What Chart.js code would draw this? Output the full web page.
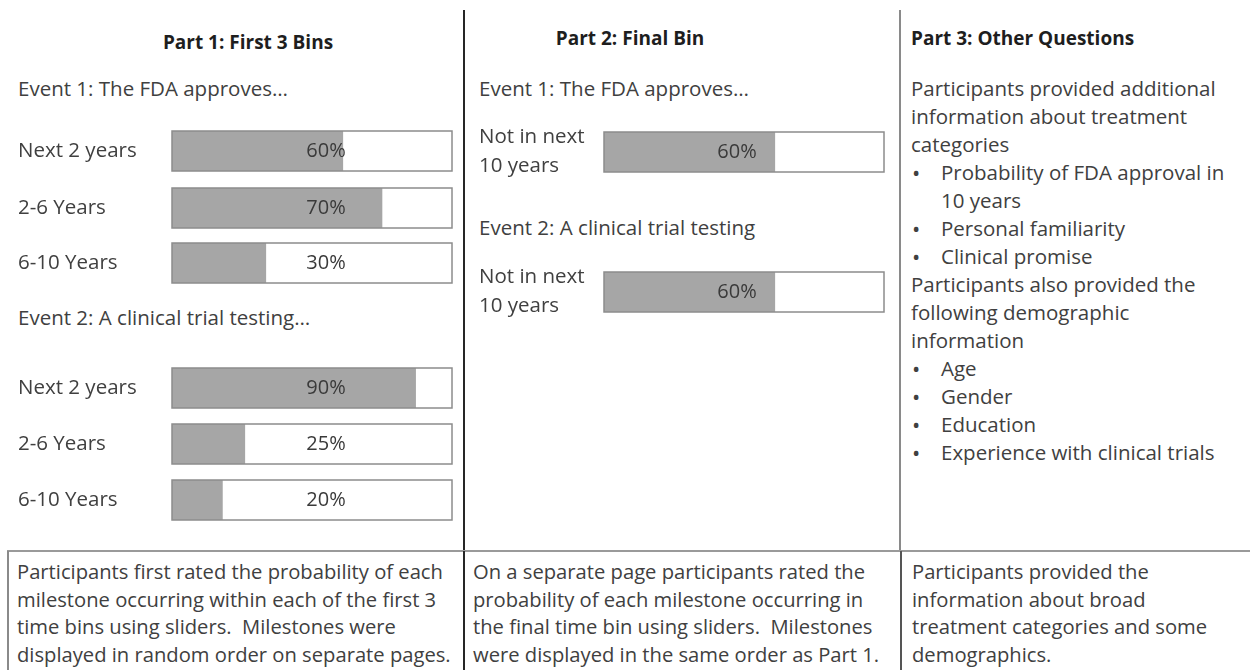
<!DOCTYPE html>
<html>
<head>
<meta charset="utf-8">
<script src="https://cdn.jsdelivr.net/npm/chart.js"></script>
<style>
    body { margin: 0; width: 1250px; height: 670px; background: #fff; position: relative; overflow: hidden;
           font-family: "Open Sans", sans-serif; color: #404040; }
    .t { position: absolute; white-space: nowrap; font-size: 20.5px; line-height: 28px; }
    .h { font-weight: bold; color: #1e1e1e; font-size: 19px; }
    .note { font-size: 20.2px; line-height: 27.5px; top: 558px; }
    .ln { position: absolute; }
    canvas { position: absolute; }
</style>
</head>
<body>

<!-- panel rules -->
<div class="ln" style="left:463px;top:10px;width:2px;height:542px;background:#262626"></div>
<div class="ln" style="left:899px;top:10px;width:2px;height:542px;background:#8a8a8a"></div>
<div class="ln" style="left:7px;top:550px;width:1243px;height:2px;background:#9a9a9a"></div>
<div class="ln" style="left:7px;top:551px;width:2px;height:119px;background:#8a8a8a"></div>
<div class="ln" style="left:463px;top:551px;width:2px;height:119px;background:#262626"></div>
<div class="ln" style="left:900px;top:551px;width:2px;height:119px;background:#555"></div>

<!-- Part 1 -->
<div class="t h" style="left:18px;width:460px;text-align:center;top:28px">Part 1: First 3 Bins</div>
<div class="t" style="left:18px;top:74px">Event 1: The FDA approves…</div>
<div class="t" style="left:18px;top:303px">Event 2: A clinical trial testing…</div>
<canvas id="p1e1_0" width="444" height="50" style="left:10px;top:126px"></canvas>
<canvas id="p1e1_1" width="444" height="50" style="left:10px;top:183px"></canvas>
<canvas id="p1e1_2" width="444" height="50" style="left:10px;top:238px"></canvas>
<canvas id="p1e2_0" width="444" height="50" style="left:10px;top:363px"></canvas>
<canvas id="p1e2_1" width="444" height="50" style="left:10px;top:419px"></canvas>
<canvas id="p1e2_2" width="444" height="50" style="left:10px;top:475px"></canvas>

<!-- Part 2 -->
<div class="t h" style="left:480px;width:300px;text-align:center;top:24px">Part 2: Final Bin</div>
<div class="t" style="left:479px;top:74px">Event 1: The FDA approves…</div>
<div class="t" style="left:479px;top:213px">Event 2: A clinical trial testing</div>
<canvas id="p2e1_0" width="416" height="64" style="left:470px;top:120px"></canvas>
<canvas id="p2e2_0" width="416" height="64" style="left:470px;top:260px"></canvas>

<!-- Part 3 -->
<div class="t h" style="left:911px;top:24px">Part 3: Other Questions</div>
<div class="t" id="p3" style="left:911px;top:74px"></div>

<!-- bottom notes -->
<div class="t note" id="n1" style="left:17px"></div>
<div class="t note" id="n2" style="left:473px"></div>
<div class="t note" id="n3" style="left:912px"></div>

<script>
// percent shown on each slider
const part1Bins = ['Next 2 years', '2-6 Years', '6-10 Years'];
const part1Event1 = [60, 70, 30];
const part1Event2 = [90, 25, 20];
const part2Bins = [['Not in next', '10 years']];
const part2Event1 = [60];
const part2Event2 = [60];
// where the slider fill actually stops in the figure (not exactly the printed %)
const part1Event1Fill = [61, 75, 33.5];
const part1Event2Fill = [87, 26, 18];
const part2Event1Fill = [61];
const part2Event2Fill = [61];

const part3Lines = [
    ['', 'Participants provided additional'],
    ['', 'information about treatment'],
    ['', 'categories'],
    ['•', 'Probability of FDA approval in'],
    ['-', '10 years'],
    ['•', 'Personal familiarity'],
    ['•', 'Clinical promise'],
    ['', 'Participants also provided the'],
    ['', 'following demographic'],
    ['', 'information'],
    ['•', 'Age'],
    ['•', 'Gender'],
    ['•', 'Education'],
    ['•', 'Experience with clinical trials']
];
const notes = [
    ['Participants first rated the probability of each', 'milestone occurring within each of the first 3',
     'time bins using sliders.  Milestones were', 'displayed in random order on separate pages.'],
    ['On a separate page participants rated the', 'probability of each milestone occurring in',
     'the final time bin using sliders.  Milestones', 'were displayed in the same order as Part 1.'],
    ['Participants provided the', 'information about broad', 'treatment categories and some', 'demographics.']
];

// text blocks
document.getElementById('p3').innerHTML = part3Lines.map(function(l) {
    if (l[0] === '-') return '<div style="padding-left:30px">' + l[1] + '</div>';   // wrapped bullet line
    if (!l[0]) return '<div>' + l[1] + '</div>';
    return '<div style="position:relative;padding-left:30px"><span style="position:absolute;left:1px;font-size:22px">•</span>' + l[1] + '</div>';
}).join('');
['n1', 'n2', 'n3'].forEach(function(id, i) {
    document.getElementById(id).innerHTML = notes[i].map(l => '<div style="white-space:pre">' + l + '</div>').join('');
});

// white track, grey border and the % label of each slider
const sliderBox = {
    id: 'sliderBox',
    beforeDatasetsDraw(chart) {
        const a = chart.chartArea, ctx = chart.ctx;
        ctx.save();
        ctx.fillStyle = '#fff';
        ctx.fillRect(a.left, a.top, a.right - a.left, a.bottom - a.top);
        ctx.restore();
    },
    afterDatasetsDraw(chart, args, opts) {
        const a = chart.chartArea, ctx = chart.ctx;
        ctx.save();
        ctx.strokeStyle = '#8c8c8c';
        ctx.lineWidth = 1.5;
        ctx.strokeRect(a.left, a.top, a.right - a.left, a.bottom - a.top);
        ctx.fillStyle = '#3a3a3a';
        ctx.font = '20px "Open Sans"';
        ctx.textAlign = 'center';
        ctx.textBaseline = 'middle';
        ctx.fillText(opts.shown + '%', a.left + opts.labelAt * (a.right - a.left), (a.top + a.bottom) / 2);
        ctx.restore();
    }
};

function slider(id, bin, shown, fill, axisWidth, padLeft, padTop, labelAt) {
    return new Chart(document.getElementById(id), {
        type: 'bar',
        data: {
            labels: [bin],
            datasets: [{
                data: [fill],
                backgroundColor: '#a6a6a6',
                borderWidth: 0,
                barPercentage: 1,
                categoryPercentage: 1
            }]
        },
        options: {
            responsive: false,
            animation: false,
            indexAxis: 'y',
            layout: { padding: { left: padLeft, right: 2, top: padTop, bottom: padTop } },
            plugins: {
                legend: { display: false },
                tooltip: { enabled: false },
                sliderBox: { labelAt: labelAt, shown: shown }
            },
            scales: {
                x: { min: 0, max: 100, display: false },
                y: {
                    grid: { display: false },
                    border: { display: false },
                    ticks: {
                        crossAlign: 'far',
                        padding: 0,
                        color: '#404040',
                        font: { family: 'Open Sans', size: 20.5, lineHeight: 1.41 }
                    },
                    afterFit: function(scale) {
                        scale.width = axisWidth;
                        // labels may overhang the bar; keep the bar at full height
                        scale.paddingTop = 0;
                        scale.paddingBottom = 0;
                    }
                }
            }
        },
        plugins: [sliderBox]
    });
}

part1Bins.forEach(function(bin, i) {
    slider('p1e1_' + i, bin, part1Event1[i], part1Event1Fill[i], 154, 8, 5, 0.55);
    slider('p1e2_' + i, bin, part1Event2[i], part1Event2Fill[i], 154, 8, 5, 0.55);
});
part2Bins.forEach(function(bin, i) {
    slider('p2e1_' + i, bin, part2Event1[i], part2Event1Fill[i], 125, 9, 12, 0.475);
    slider('p2e2_' + i, bin, part2Event2[i], part2Event2Fill[i], 125, 9, 12, 0.475);
});
</script>
</body>
</html>
